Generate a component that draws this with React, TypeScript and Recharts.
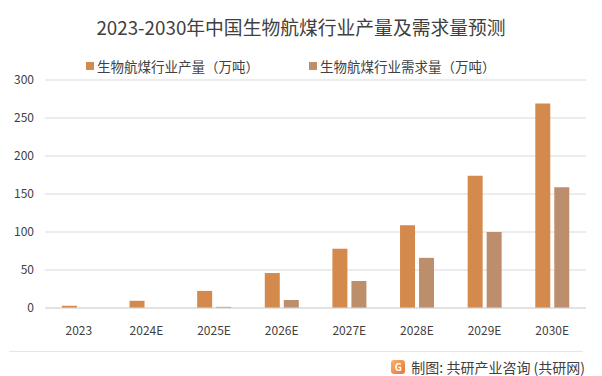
import React from 'react';
import { BarChart, Bar, XAxis, YAxis, CartesianGrid } from 'recharts';

const years = ['2023', '2024E', '2025E', '2026E', '2027E', '2028E', '2029E', '2030E'];
const production = [3, 9.5, 22.5, 46, 78, 109, 174, 269];
const demand = [0, 0, 1.5, 10.5, 35.5, 66, 100, 159];
const yTicks = [0, 50, 100, 150, 200, 250, 300];

const PROD_COLOR = '#D48A4C';
const DEMAND_COLOR = '#BC8E6C';
const FONT = '"Noto Sans CJK SC", "Noto Sans", sans-serif';

const data = years.map((year, i) => ({
  year,
  production: production[i],
  demand: demand[i],
}));

const LegendItem: React.FC<{ color: string; label: string; left: number }> = ({ color, label, left }) => (
  <div style={{ position: 'absolute', left, top: 56, display: 'flex', alignItems: 'center', fontSize: 13.5, color: '#404040' }}>
    <span style={{ width: 8, height: 8, background: color, marginRight: 3, display: 'inline-block' }} />
    <span>{label}</span>
  </div>
);

export default function App() {
  return (
    <div style={{ position: 'absolute', left: 0, top: 0, width: 602, height: 376, background: '#fff', fontFamily: FONT }}>
      <div style={{ position: 'absolute', left: 0, top: 13, width: 602, textAlign: 'center', fontSize: 18.8, color: '#404040' }}>
        2023-2030年中国生物航煤行业产量及需求量预测
      </div>
      <LegendItem color={PROD_COLOR} label="生物航煤行业产量（万吨）" left={86} />
      <LegendItem color={DEMAND_COLOR} label="生物航煤行业需求量（万吨）" left={309} />

      <BarChart
        width={602}
        height={376}
        data={data}
        margin={{ top: 80, right: 16, bottom: 38, left: 0 }}
        barCategoryGap="25%"
        barGap={4}
        style={{ position: 'absolute', left: 0, top: 0 }}
      >
        <CartesianGrid vertical={false} stroke="#d9d9d9" />
        <XAxis
          dataKey="year"
          axisLine={{ stroke: '#d9d9d9' }}
          tickLine={false}
          tickMargin={12}
          height={30}
          tick={{ fontSize: 12, fill: '#404040', fontFamily: FONT }}
        />
        <YAxis
          domain={[0, 300]}
          ticks={yTicks}
          width={45}
          axisLine={false}
          tickLine={false}
          tickMargin={5}
          tick={{ fontSize: 12, fill: '#404040', fontFamily: FONT }}
        />
        <Bar dataKey="production" fill={PROD_COLOR} isAnimationActive={false} />
        <Bar dataKey="demand" fill={DEMAND_COLOR} isAnimationActive={false} />
      </BarChart>

      <div style={{ position: 'absolute', left: 9, top: 351, width: 574, height: 1, background: '#e6e6e6' }} />
      <div style={{ position: 'absolute', right: 17, top: 357, display: 'flex', alignItems: 'center', fontSize: 14, color: '#404040' }}>
        <span
          style={{
            width: 14,
            height: 14,
            borderRadius: 3,
            background: 'linear-gradient(135deg, #f7b26a, #e8743b)',
            color: '#fff',
            fontSize: 10,
            fontWeight: 700,
            lineHeight: '14px',
            textAlign: 'center',
            marginRight: 6,
            display: 'inline-block',
          }}
        >
          G
        </span>
        <span>制图: 共研产业咨询 (共研网)</span>
      </div>
    </div>
  );
}
